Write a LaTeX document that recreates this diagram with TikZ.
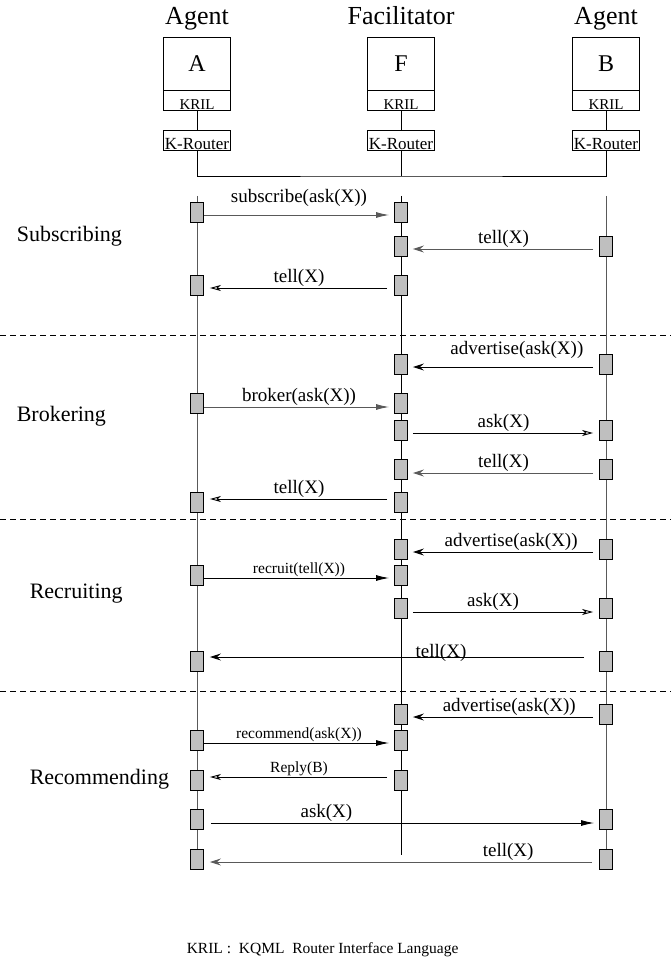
\documentclass[tikz,border=0pt]{standalone}
\usepackage{fontspec}
\setmainfont{Liberation Serif}
\usepackage{tikz}
\usetikzlibrary{arrows.meta,positioning}
\definecolor{boxgray}{gray}{0.75}
\definecolor{linegray}{gray}{0.35}
\tikzstyle{titletext} = [anchor=base, font=\fontsize{26}{26}\selectfont]
\tikzstyle{agentblock} = [rectangle, draw, minimum width=67pt, minimum height=53pt, inner sep=0pt, font=\fontsize{24}{24}\selectfont]
\tikzstyle{krilblock} = [rectangle, draw, minimum width=67pt, text height=20pt, text depth=0pt, inner sep=0pt, font=\fontsize{15}{15}\selectfont]
\tikzstyle{routerblock} = [rectangle, draw, minimum width=67pt, text height=20pt, text depth=0pt, inner sep=0pt, font=\fontsize{17}{17}\selectfont]
\tikzstyle{actbox} = [rectangle, draw, fill=boxgray, minimum width=13pt, minimum height=20pt, inner sep=0pt]
\tikzstyle{msglabel} = [above, inner sep=1pt, font=\fontsize{19}{19}\selectfont]
\tikzstyle{smalllabel} = [above, inner sep=1pt, font=\fontsize{15.5}{15.5}\selectfont]
\tikzstyle{phaselabel} = [anchor=base west, font=\fontsize{22}{22}\selectfont]
\tikzstyle{reqarrow} = [-{Latex[length=13pt,width=6pt]}]
\tikzstyle{ansarrow} = [-{Stealth[length=11pt,width=7pt,inset=4pt]}]
\tikzstyle{fwdarrow} = [-{Stealth[open,length=11pt,width=6pt,inset=3pt]}]
\tikzstyle{sepline} = [dash pattern=on 6pt off 4pt]
\begin{document}
\begin{tikzpicture}[x=1pt, y=-1pt, line width=0.9pt]
\useasboundingbox (0,0) rectangle (671,957);
\node [titletext] (tA) at (197,25) {Agent};
\node [titletext] (tF) at (401,25) {Facilitator};
\node [titletext] (tB) at (606,25) {Agent};
\node [agentblock] (boxA) at (197,63.5) {A};
\node [agentblock] (boxF) at (401,63.5) {F};
\node [agentblock] (boxB) at (606,63.5) {B};
\node [krilblock, below of = boxA, node distance = 36.5pt] (kA) {KRIL};
\node [krilblock, below of = boxF, node distance = 36.5pt] (kF) {KRIL};
\node [krilblock, below of = boxB, node distance = 36.5pt] (kB) {KRIL};
\node [routerblock, below of = kA, node distance = 40pt] (rA) {K-Router};
\node [routerblock, below of = kF, node distance = 40pt] (rF) {K-Router};
\node [routerblock, below of = kB, node distance = 40pt] (rB) {K-Router};
\coordinate (bus) at (401,176);
\draw (kA) -- (rA);
\draw (kF) -- (rF);
\draw (kB) -- (rB);
\draw (rA) |- (bus) -| (rB);
\draw (rF) -- (bus);

\coordinate (lA0) at (197,196);
\coordinate (lA1) at (197,869);
\coordinate (lF0) at (401,196);
\coordinate (lF1) at (401,855);
\coordinate (lB0) at (606,196);
\coordinate (lB1) at (606,855);
\draw [linegray] (lA0) -- (lA1);
\draw (lF0) -- (lF1);
\draw [linegray] (lB0) -- (lB1);

\draw [sepline] (0,335) -- (671,335);
\draw [sepline] (0,519) -- (671,519);
\draw [sepline] (0,691) -- (671,691);

\node [phaselabel] (subscribing) at (13,242) {Subscribing};
\node [phaselabel] (brokering) at (13,421) {Brokering};
\node [phaselabel] (recruiting) at (26,598) {Recruiting};
\node [phaselabel] (recommending) at (26,784) {Recommending};

\node [actbox] (a1) at (197,212) {};
\node [actbox] (f1) at (401,212) {};
\node [actbox] (f2) at (401,246) {};
\node [actbox] (b2) at (606,246) {};
\node [actbox] (a3) at (197,285) {};
\node [actbox] (f3) at (401,285) {};
\node [actbox] (f4) at (401,364) {};
\node [actbox] (b4) at (606,364) {};
\node [actbox] (a5) at (197,403) {};
\node [actbox] (f5) at (401,403) {};
\node [actbox] (f6) at (401,430) {};
\node [actbox] (b6) at (606,430) {};
\node [actbox] (f7) at (401,469) {};
\node [actbox] (b7) at (606,469) {};
\node [actbox] (a8) at (197,502) {};
\node [actbox] (f8) at (401,502) {};
\node [actbox] (f9) at (401,549) {};
\node [actbox] (b9) at (606,549) {};
\node [actbox] (a10) at (197,575) {};
\node [actbox] (f10) at (401,575) {};
\node [actbox] (f11) at (401,608) {};
\node [actbox] (b11) at (606,608) {};
\node [actbox] (a12) at (197,661) {};
\node [actbox] (b12) at (606,661) {};
\node [actbox] (f13) at (401,714) {};
\node [actbox] (b13) at (606,714) {};
\node [actbox] (a14) at (197,740) {};
\node [actbox] (f14) at (401,740) {};
\node [actbox] (a15) at (197,780) {};
\node [actbox] (f15) at (401,780) {};
\node [actbox] (a16) at (197,819) {};
\node [actbox] (b16) at (606,819) {};
\node [actbox] (a17) at (197,859) {};
\node [actbox] (b17) at (606,859) {};

\draw [reqarrow, linegray, shorten >=5pt] ([yshift=-3pt]a1.east) -- ([yshift=-3pt]f1.west) node [msglabel, black, midway, yshift=7pt] {subscribe(ask(X))};
\draw [ansarrow, linegray, shorten <=6pt, shorten >=5pt] ([yshift=-3pt]b2.west) -- ([yshift=-3pt]f2.east) node [msglabel, black, midway] {tell(X)};
\draw [fwdarrow, shorten <=7pt, shorten >=6pt] ([yshift=-3pt]f3.west) -- ([yshift=-3pt]a3.east) node [msglabel, midway] {tell(X)};

\draw [ansarrow, shorten <=6pt, shorten >=5pt] ([yshift=-3pt]b4.west) -- ([yshift=-3pt]f4.east) node [msglabel, pos=0.43, yshift=7pt] {advertise(ask(X))};
\draw [reqarrow, linegray, shorten >=5pt] ([yshift=-4pt]a5.east) -- ([yshift=-4pt]f5.west) node [msglabel, black, midway] {broker(ask(X))};
\draw [fwdarrow, shorten <=5pt, shorten >=6pt] ([yshift=-3pt]f6.east) -- ([yshift=-3pt]b6.west) node [msglabel, midway] {ask(X)};
\draw [ansarrow, linegray, shorten <=6pt, shorten >=5pt] ([yshift=-4pt]b7.west) -- ([yshift=-4pt]f7.east) node [msglabel, black, midway] {tell(X)};
\draw [fwdarrow, shorten <=7pt, shorten >=6pt] ([yshift=3pt]f8.west) -- ([yshift=3pt]a8.east) node [msglabel, midway] {tell(X)};

\draw [ansarrow, shorten <=6pt, shorten >=5pt] ([yshift=-3pt]b9.west) -- ([yshift=-3pt]f9.east) node [msglabel, pos=0.46] {advertise(ask(X))};
\draw [reqarrow, shorten >=5pt] ([yshift=-3pt]a10.east) -- ([yshift=-3pt]f10.west) node [smalllabel, midway] {recruit(tell(X))};
\draw [fwdarrow, shorten <=5pt, shorten >=6pt] ([yshift=-4pt]f11.east) -- ([yshift=-4pt]b11.west) node [msglabel, pos=0.445] {ask(X)};
\draw [ansarrow, shorten <=15pt, shorten >=6pt] ([yshift=4pt]b12.west) -- ([yshift=4pt]a12.east) node [msglabel, pos=0.40, yshift=-6pt] {tell(X)};

\draw [ansarrow, shorten <=6pt, shorten >=5pt] ([yshift=-3pt]b13.west) -- ([yshift=-3pt]f13.east) node [msglabel, pos=0.47] {advertise(ask(X))};
\draw [reqarrow, shorten >=5pt] ([yshift=-3pt]a14.east) -- ([yshift=-3pt]f14.west) node [smalllabel, midway] {recommend(ask(X))};
\draw [fwdarrow, shorten <=7pt, shorten >=6pt] ([yshift=3pt]f15.west) -- ([yshift=3pt]a15.east) node [smalllabel, midway] {Reply(B)};
\draw [reqarrow, shorten <=7pt, shorten >=5pt] ([yshift=-4pt]a16.east) -- ([yshift=-4pt]b16.west) node [msglabel, pos=0.31] {ask(X)};
\draw [ansarrow, linegray, shorten <=7pt, shorten >=6pt] ([yshift=-3pt]b17.west) -- ([yshift=-3pt]a17.east) node [msglabel, black, pos=0.23] {tell(X)};

\node [anchor=base west, font=\fontsize{15.5}{15.5}\selectfont] (note) at (183,953) {KRIL :\ \ KQML\ \ Router Interface Language};
\end{tikzpicture}
\end{document}
